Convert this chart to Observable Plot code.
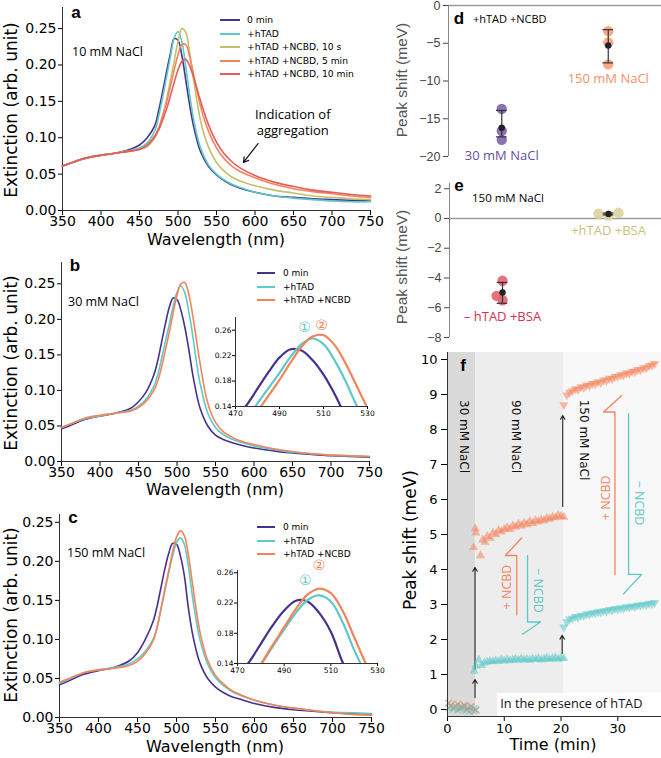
<!DOCTYPE html>
<html><head><meta charset="utf-8">
<script src="https://cdn.jsdelivr.net/npm/d3@7"></script>
<script src="https://cdn.jsdelivr.net/npm/@observablehq/plot@0.6"></script>
<style>
body{margin:0;background:#fff;}
#fig{position:relative;width:661px;height:758px;overflow:hidden;background:#fff;}
</style></head><body><div id="fig"></div>
<script>
// ---------- data: spectra ----------
const WL = [350,360,380,400,420,440,450,460,470,475,480,485,490,495,500,505,510,515,520,525,530,540,550,560,570,580,600,625,650,675,700,725,750];

const A_NAMES = ["0 min","+hTAD","+hTAD +NCBD, 10 s","+hTAD +NCBD, 5 min","+hTAD +NCBD, 10 min"];
const A_COLORS = ["#46318e","#5ec9c9","#c3bf6c","#f5835a","#e35d5d"];
const A_0MIN  = [0.061,0.065,0.072,0.076,0.079,0.085,0.090,0.100,0.117,0.138,0.163,0.190,0.215,0.236,0.234,0.213,0.180,0.146,0.117,0.095,0.079,0.060,0.049,0.041,0.035,0.031,0.025,0.020,0.018,0.016,0.015,0.014,0.013];
const A_HTAD  = [0.061,0.065,0.072,0.076,0.079,0.083,0.086,0.093,0.110,0.130,0.155,0.183,0.210,0.237,0.246,0.232,0.198,0.160,0.127,0.102,0.084,0.062,0.050,0.042,0.036,0.032,0.025,0.020,0.017,0.015,0.013,0.012,0.012];
const A_10S   = [0.061,0.065,0.072,0.076,0.079,0.082,0.084,0.088,0.100,0.112,0.130,0.152,0.178,0.205,0.232,0.250,0.245,0.218,0.182,0.148,0.120,0.086,0.066,0.054,0.046,0.041,0.034,0.028,0.024,0.020,0.018,0.016,0.015];
const A_5MIN  = [0.061,0.065,0.072,0.076,0.079,0.082,0.084,0.090,0.103,0.114,0.130,0.148,0.170,0.193,0.214,0.228,0.228,0.212,0.188,0.163,0.140,0.108,0.086,0.071,0.061,0.054,0.045,0.036,0.030,0.026,0.023,0.020,0.018];
const A_10MIN = [0.061,0.065,0.072,0.076,0.079,0.082,0.084,0.090,0.102,0.111,0.124,0.139,0.157,0.176,0.193,0.205,0.208,0.199,0.184,0.166,0.148,0.117,0.094,0.078,0.067,0.059,0.048,0.039,0.033,0.028,0.025,0.022,0.020];

const BC_NAMES = ["0 min","+hTAD","+hTAD +NCBD"];
const BC_COLORS = ["#46318e","#5ec9c9","#f5835a"];
const B_0MIN = [0.046,0.050,0.059,0.064,0.068,0.075,0.084,0.098,0.122,0.142,0.168,0.194,0.217,0.230,0.228,0.213,0.190,0.160,0.125,0.097,0.075,0.050,0.037,0.031,0.027,0.024,0.019,0.015,0.012,0.010,0.008,0.007,0.006];
const B_HTAD = [0.048,0.052,0.060,0.064,0.068,0.072,0.078,0.088,0.106,0.122,0.145,0.169,0.193,0.218,0.238,0.247,0.238,0.213,0.180,0.142,0.110,0.068,0.048,0.038,0.032,0.028,0.022,0.017,0.013,0.011,0.009,0.008,0.007];
const B_NCBD = [0.048,0.052,0.061,0.065,0.068,0.071,0.076,0.085,0.100,0.113,0.133,0.157,0.182,0.209,0.234,0.250,0.252,0.237,0.208,0.173,0.138,0.082,0.055,0.042,0.035,0.030,0.024,0.018,0.014,0.011,0.009,0.008,0.007];
const C_0MIN = [0.042,0.046,0.055,0.060,0.064,0.073,0.083,0.100,0.123,0.142,0.166,0.190,0.210,0.223,0.222,0.207,0.182,0.142,0.110,0.087,0.070,0.050,0.039,0.032,0.027,0.024,0.018,0.013,0.010,0.008,0.006,0.005,0.004];
const C_HTAD = [0.044,0.048,0.057,0.061,0.064,0.069,0.075,0.085,0.100,0.115,0.138,0.162,0.185,0.207,0.224,0.230,0.222,0.195,0.158,0.126,0.100,0.068,0.051,0.041,0.034,0.029,0.022,0.016,0.012,0.009,0.007,0.006,0.005];
const C_NCBD = [0.045,0.049,0.057,0.061,0.063,0.067,0.072,0.082,0.098,0.115,0.139,0.164,0.188,0.212,0.231,0.239,0.233,0.210,0.175,0.140,0.110,0.073,0.054,0.043,0.035,0.030,0.022,0.016,0.012,0.009,0.006,0.004,0.003];

const X_SPEC_TICKS = [350,400,450,500,550,600,650,700,750];
const Y_SPEC_TICKS = [0,0.05,0.10,0.15,0.20,0.25];
const INSET_X_TICKS = [470,490,510,530];
const INSET_Y_TICKS = [0.14,0.18,0.22,0.26];
const CIRCLES = ["①","②"];
const CIRCLE_COLORS = ["#5ec9c9","#f5835a"];
const B_CIRCLE_X = [501.4,509.1], B_CIRCLE_Y = [0.264,0.267];
const C_CIRCLE_X = [499.1,504.9], C_CIRCLE_Y = [0.250,0.269];

// ---------- data: d, e ----------
const D_CATS = ["30 mM NaCl","150 mM NaCl"];
const D_POS = [0.25,0.75];
const D_VALUES = [[-13.7,-16.6,-17.8],[-3.4,-4.9,-7.8]];
const D_MEAN = [-16.2,-5.3], D_LO = [-17.4,-7.6], D_HI = [-13.9,-3.2];
const D_DOT_COLORS = ["#8063ac","#f7a27d"], D_TEXT_COLORS = ["#6a4d9e","#f4906a"];
const D_LABEL_Y = [-19.9,-9.7];

const E_CATS = ["– hTAD +BSA","+hTAD +BSA"];
const E_POS = [0.25,0.75];
const E_VALUES = [[-4.19,-5.2,-5.5],[0.32,0.2,0.38]];
const E_JITTER = [[0,-0.028,0],[-0.047,0,0.047]];
const E_MEAN = [-4.98,0.3], E_LO = [-5.7,0.24], E_HI = [-4.3,0.36];
const E_DOT_COLORS = ["#e2636f","#d8d49d"], E_TEXT_COLORS = ["#d2334e","#c9c27e"];
const E_LABEL_Y = [-6.6,-0.8];

// ---------- data: f ----------
const F_ORANGE = "#f4845c", F_CYAN = "#5cc8c8";
const F_T1 = [0.2,0.6,1.0,1.4,1.8,2.2,2.6,3.0,3.4,3.8,4.2,4.6,5.0];
const F_O1 = [0.18,0.12,0.05,0.10,0.15,0.02,0.08,0.12,-0.02,0.05,0.10,-0.05,0.00];
const F_C1 = [0.05,0.10,0.00,0.08,-0.02,0.06,0.03,0.10,0.00,-0.05,0.05,0.02,-0.03];
const F_T2O = [4.6,4.9,5.0,5.8,6.2,6.6,7.0,7.5,8.0,8.5,9.0,9.5,10.0,10.5,11.0,11.5,12.0,12.5,13.0,13.5,14.0,14.5,15.0,15.5,16.0,16.5,17.0,17.5,18.0,18.5,19.0,19.5,20.0,20.5];
const F_O2 = [4.63,5.17,5.05,4.40,4.85,4.78,4.95,4.90,5.05,5.00,5.12,5.08,5.15,5.20,5.15,5.25,5.22,5.30,5.25,5.33,5.28,5.38,5.32,5.40,5.36,5.42,5.40,5.47,5.44,5.50,5.48,5.55,5.52,5.50];
const F_T2C = [4.7,5.0,5.5,6.0,6.5,7.0,7.5,8.0,8.5,9.0,9.5,10.0,10.5,11.0,11.5,12.0,12.5,13.0,13.5,14.0,14.5,15.0,15.5,16.0,16.5,17.0,17.5,18.0,18.5,19.0,19.5,20.0,20.5];
const F_C2 = [1.10,1.25,1.42,1.26,1.33,1.36,1.38,1.37,1.40,1.38,1.42,1.39,1.43,1.40,1.42,1.44,1.41,1.45,1.42,1.44,1.41,1.45,1.43,1.46,1.42,1.45,1.47,1.43,1.46,1.48,1.44,1.48,1.46];
const F_T3 = [20.5,21.0,21.5,22.0,22.5,23.0,23.5,24.0,24.5,25.0,25.5,26.0,26.5,27.0,27.5,28.0,28.5,29.0,29.5,30.0,30.5,31.0,31.5,32.0,32.5,33.0,33.5,34.0,34.5,35.0,35.5,36.0,36.5];
const F_O3 = [8.70,8.98,9.06,9.10,9.16,9.14,9.22,9.20,9.27,9.25,9.31,9.30,9.36,9.34,9.41,9.40,9.46,9.45,9.51,9.52,9.56,9.55,9.61,9.60,9.66,9.65,9.71,9.70,9.76,9.75,9.82,9.84,9.88];
const F_C3 = [2.35,2.50,2.58,2.60,2.65,2.63,2.69,2.68,2.73,2.72,2.76,2.75,2.79,2.78,2.82,2.81,2.85,2.84,2.88,2.87,2.90,2.89,2.93,2.92,2.95,2.94,2.98,2.97,3.00,2.99,3.03,3.02,3.05];
const F_XDOMAIN = [0,37.7], F_YDOMAIN = [-0.2,10.2];
const F_REGION_START = [0,5,20.5], F_REGION_END = [5,20.5,37.7];
const F_REGION_FILL = ["#dadada","#ededed","#f8f8f8"];
const F_SALT = ["30 mM NaCl","90 mM NaCl","150 mM NaCl"], F_SALT_X = [2.8,12.0,24.0], F_SALT_Y = [7.8,7.8,7.7];
const F_ARROWS = [[4.85,0.34,4.85,0.86],[4.85,1.15,4.85,4.06],[20.2,1.6,20.2,2.12],[20.3,5.8,20.3,8.4]];
const F_BRACKETS = [
  {c:F_ORANGE, pts:[[13.05,4.9],[10.2,4.4],[12.2,4.4],[12.2,2.7]]},
  {c:F_CYAN, pts:[[14.1,4.4],[14.1,2.5],[16.4,2.5],[13.2,2.15]]},
  {c:F_ORANGE, pts:[[30.7,8.97],[27.5,8.5],[29.5,8.5],[29.5,3.86]]},
  {c:F_CYAN, pts:[[31.9,8.45],[31.9,3.86],[34.2,3.86],[31.0,3.3]]}
];
const F_NCBD_TEXT = ["+ NCBD","− NCBD","+ NCBD","− NCBD"];
const F_NCBD_X = [10.4,16.0,27.9,33.7], F_NCBD_Y = [3.5,3.4,6.05,5.9], F_NCBD_ROT = [-90,90,-90,90];
const F_NCBD_COL = [F_ORANGE,F_CYAN,F_ORANGE,F_CYAN];
const F_BOX = {x1:8.8,x2:37.7,y1:-0.2,y2:0.46};
const F_NOTE = "In the presence of hTAD", F_NOTE_X = 9.3, F_NOTE_Y = 0.17;

// ---------- helpers ----------
const fig = document.getElementById("fig");
function put(node, left, top){ node.style.position="absolute"; node.style.left=left+"px"; node.style.top=top+"px"; fig.appendChild(node); }
function label(text, x, y, o={}){
  const d=document.createElement("div");
  d.textContent=text;
  const tx = o.anchor==="start" ? "0" : "-50%";
  d.style.cssText=`position:absolute;left:${x}px;top:${y}px;white-space:nowrap;line-height:1;font-family:${o.family||'"DejaVu Sans"'};font-size:${o.size||12}px;color:${o.color||'#000'};font-weight:${o.weight||'normal'};transform:translate(${tx},-50%) rotate(${o.rot||0}deg);`;
  fig.appendChild(d);
}
function legend(names, colors, x0, y0, dy, len, gap, size){
  names.forEach((n,i)=>{
    const sw=document.createElement("div");
    sw.style.cssText=`position:absolute;left:${x0}px;top:${y0+i*dy-1}px;width:${len}px;height:0;border-top:2px solid ${colors[i]};`;
    fig.appendChild(sw);
    label(n, x0+len+gap, y0+i*dy, {size, anchor:"start"});
  });
}
function specData(names, series){ return series.flatMap((vals,k)=>WL.map((w,i)=>({w, v:vals[i], s:names[k]}))); }

function spectrum(o){
  const data = specData(o.names, o.series);
  return Plot.plot({
    width:440, height:o.height, marginLeft:o.ml, marginRight:o.mr, marginTop:o.mt, marginBottom:o.mb,
    style:{background:"transparent", fontFamily:"DejaVu Sans", fontSize:"14px", color:"#000", overflow:"visible"},
    x:{domain:[350,750], ticks:X_SPEC_TICKS, tickSize:5, tickPadding:1, label:null},
    y:{domain:[0,o.ymax], ticks:Y_SPEC_TICKS, tickFormat:d3.format(".2f"), tickSize:4, tickPadding:2, label:null},
    color:{domain:o.names, range:o.colors},
    marks:[
      Plot.ruleX([350],{stroke:"#333"}), Plot.ruleY([0],{stroke:"#333"}),
      Plot.line(data,{x:"w", y:"v", z:"s", stroke:"s", curve:"catmull-rom", strokeWidth:1.6}),
      ...(o.extra||[])
    ]
  });
}
function inset(o){
  const data = specData(o.names, o.series);
  const circ = CIRCLES.map((t,i)=>({t, x:o.cx[i], y:o.cy[i], c:CIRCLE_COLORS[i]}));
  return Plot.plot({
    width:o.width, height:o.height, marginLeft:o.ml, marginRight:o.mr, marginTop:o.mt, marginBottom:o.mb,
    style:{background:"transparent", fontFamily:"DejaVu Sans", fontSize:"7.5px", color:"#000", overflow:"visible"},
    x:{domain:[470,530], ticks:INSET_X_TICKS, tickSize:3, tickPadding:1, label:null},
    y:{domain:[0.14,o.ymax], ticks:INSET_Y_TICKS, tickFormat:d3.format(".2f"), tickSize:3, tickPadding:1, label:null},
    color:{domain:o.names, range:o.colors},
    marks:[
      Plot.ruleX([470],{stroke:"#333"}), Plot.ruleY([0.14],{stroke:"#333"}),
      Plot.line(data,{x:"w", y:"v", z:"s", stroke:"s", curve:"catmull-rom", strokeWidth:2.2, clip:true}),
      Plot.text(circ,{x:"x", y:"y", text:"t", fill:"c", fontSize:14, fontFamily:"DejaVu Sans"})
    ]
  });
}

// ---------- panel a ----------
const A_NOTE = [{t:"Indication of\naggregation", x:649, y:0.122}];
const A_ARROW = [{x1:604, y1:0.092, x2:585, y2:0.066}];
put(spectrum({names:A_NAMES, colors:A_COLORS, series:[A_0MIN,A_HTAD,A_10S,A_5MIN,A_10MIN], height:250, ml:62, mr:70, mt:7, mb:40, ymax:0.279,
  extra:[
    Plot.text(A_NOTE,{x:"x", y:"y", text:"t", fontSize:13, fontFamily:"Open Sans", lineHeight:1.25}),
    Plot.arrow(A_ARROW,{x1:"x1", y1:"y1", x2:"x2", y2:"y2", stroke:"#111", strokeWidth:1.2, headLength:7})
  ]}), 0, 0);
label("a", 76, 12, {size:17, weight:"bold", family:'"Liberation Sans"'});
label("10 mM NaCl", 72, 52, {size:12.5, family:'"Open Sans"', anchor:"start"});
legend(A_NAMES, A_COLORS, 220, 20, 13.5, 20, 7, 9.2);
label("Extinction (arb. unit)", 11, 110, {size:17, rot:-90});
label("Wavelength (nm)", 216, 240, {size:16});

// ---------- panel b ----------
put(spectrum({names:BC_NAMES, colors:BC_COLORS, series:[B_0MIN,B_HTAD,B_NCBD], height:260, ml:61, mr:71, mt:12, mb:49, ymax:0.28}), 0, 250);
put(inset({names:BC_NAMES, colors:BC_COLORS, series:[B_0MIN,B_HTAD,B_NCBD], width:170, height:110, ml:30, mr:8, mt:7, mb:14, ymax:0.28, cx:B_CIRCLE_X, cy:B_CIRCLE_Y}), 205, 310);
label("b", 75, 265, {size:17, weight:"bold", family:'"Liberation Sans"'});
label("30 mM NaCl", 68, 302, {size:12.5, family:'"Open Sans"', anchor:"start"});
legend(BC_NAMES, BC_COLORS, 257, 273, 13.5, 18, 8, 9);
label("Extinction (arb. unit)", 11, 363, {size:17, rot:-90});
label("Wavelength (nm)", 215, 490, {size:16});

// ---------- panel c ----------
put(spectrum({names:BC_NAMES, colors:BC_COLORS, series:[C_0MIN,C_HTAD,C_NCBD], height:253, ml:59, mr:69, mt:9, mb:41, ymax:0.26}), 0, 505);
put(inset({names:BC_NAMES, colors:BC_COLORS, series:[C_0MIN,C_HTAD,C_NCBD], width:180, height:110, ml:32, mr:8, mt:7, mb:10, ymax:0.263, cx:C_CIRCLE_X, cy:C_CIRCLE_Y}), 205, 563);
label("c", 73, 517, {size:17, weight:"bold", family:'"Liberation Sans"'});
label("150 mM NaCl", 67, 553, {size:12.5, family:'"Open Sans"', anchor:"start"});
legend(BC_NAMES, BC_COLORS, 257, 527, 13.5, 18, 8, 9);
label("Extinction (arb. unit)", 11, 615, {size:17, rot:-90});
label("Wavelength (nm)", 215, 747, {size:16});

// ---------- panels d, e ----------
function scatterPanel(o){
  const pts = o.cats.flatMap((c,k)=>o.values[k].map((v,j)=>({x:o.pos[k]+(o.jitter?o.jitter[k][j]:0), v, c:o.dotColors[k]})));
  const sum = o.cats.map((c,k)=>({cat:c, x:o.pos[k], mean:o.mean[k], lo:o.lo[k], hi:o.hi[k], ly:o.labelY[k], tc:o.textColors[k]}));
  return Plot.plot({
    width:241, height:170, marginLeft:o.ml, marginRight:0, marginTop:o.mt, marginBottom:o.mb,
    style:{background:"transparent", fontFamily:"Liberation Sans", fontSize:"12.5px", color:"#444", overflow:"visible"},
    x:{domain:[0,1], axis:null},
    y:{domain:o.ydomain, ticks:o.yticks, tickSize:5, tickPadding:3, label:null},
    marks:[
      Plot.ruleY([0],{stroke:"#9a9a9a", strokeWidth:1.5}),
      Plot.ruleX([0],{stroke:"#888"}),
      Plot.dot(pts,{x:"x", y:"v", r:5.2, fill:"c", fillOpacity:0.9}),
      Plot.ruleX(sum,{x:"x", y1:"lo", y2:"hi", stroke:"#333", strokeWidth:1.2}),
      Plot.ruleY(sum,{y:"lo", x1:d=>d.x-0.025, x2:d=>d.x+0.025, stroke:"#333", strokeWidth:1.2}),
      Plot.ruleY(sum,{y:"hi", x1:d=>d.x-0.025, x2:d=>d.x+0.025, stroke:"#333", strokeWidth:1.2}),
      Plot.dot(sum,{x:"x", y:"mean", r:3.2, fill:"#222"}),
      Plot.text(sum,{x:"x", y:"ly", text:"cat", fill:"tc", fontSize:13, fontFamily:"Open Sans"})
    ]
  });
}
put(scatterPanel({cats:D_CATS, pos:D_POS, values:D_VALUES, mean:D_MEAN, lo:D_LO, hi:D_HI, dotColors:D_DOT_COLORS, textColors:D_TEXT_COLORS, labelY:D_LABEL_Y,
  ml:28, mt:5, mb:14, ydomain:[-20,0], yticks:[0,-5,-10,-15,-20]}), 420, 0);
label("d", 459, 18, {size:17, weight:"bold", family:'"Liberation Sans"'});
label("+hTAD +NCBD", 473, 18, {size:11, family:'"Open Sans"', anchor:"start"});
label("Peak shift (meV)", 402, 80, {size:15.5, rot:-90, family:'"Liberation Sans"', color:"#555"});

put(scatterPanel({cats:E_CATS, pos:E_POS, values:E_VALUES, jitter:E_JITTER, mean:E_MEAN, lo:E_LO, hi:E_HI, dotColors:E_DOT_COLORS, textColors:E_TEXT_COLORS, labelY:E_LABEL_Y,
  ml:29, mt:8, mb:8, ydomain:[-8,2.35], yticks:[2,0,-2,-4,-6,-8]}), 420, 175);
label("e", 459, 185, {size:17, weight:"bold", family:'"Liberation Sans"'});
label("150 mM NaCl", 472, 198, {size:11.5, family:'"Open Sans"', anchor:"start"});
label("Peak shift (meV)", 402, 267, {size:15.5, rot:-90, family:'"Liberation Sans"', color:"#555"});

// ---------- panel f ----------
const regions = F_REGION_START.map((a,i)=>({a, b:F_REGION_END[i], f:F_REGION_FILL[i]}));
const seg1 = F_T1.flatMap((t,i)=>[{t, v:F_O1[i], c:F_ORANGE},{t, v:F_C1[i], c:F_CYAN}]);
const seg2 = [...F_T2O.map((t,i)=>({t, v:F_O2[i], c:F_ORANGE})), ...F_T2C.map((t,i)=>({t, v:F_C2[i], c:F_CYAN}))];
const seg3 = [...F_T3.map((t,i)=>({t, v:F_O3[i], c:F_ORANGE})), ...F_T3.map((t,i)=>({t, v:F_C3[i], c:F_CYAN}))];
const brackets = F_BRACKETS.flatMap((b,k)=>b.pts.map(p=>({x:p[0], y:p[1], id:k, c:b.c})));
const arrows = F_ARROWS.map(a=>({x1:a[0], y1:a[1], x2:a[2], y2:a[3]}));
const salts = F_SALT.map((s,i)=>({s, x:F_SALT_X[i], y:F_SALT_Y[i]}));
const ncbd = F_NCBD_TEXT.map((s,i)=>({s, x:F_NCBD_X[i], y:F_NCBD_Y[i], r:F_NCBD_ROT[i], c:F_NCBD_COL[i]}));

put(Plot.plot({
  width:241, height:413, marginLeft:27, marginRight:0, marginTop:7, marginBottom:42,
  style:{background:"transparent", fontFamily:"DejaVu Sans", fontSize:"13px", color:"#000", overflow:"visible"},
  x:{domain:F_XDOMAIN, ticks:[0,10,20,30], tickSize:5, tickPadding:2, label:null},
  y:{domain:F_YDOMAIN, ticks:[0,1,2,3,4,5,6,7,8,9,10], tickSize:6, tickPadding:4, label:null},
  marks:[
    Plot.rect(regions,{x1:"a", x2:"b", y1:F_YDOMAIN[0], y2:F_YDOMAIN[1], fill:"f"}),
    Plot.rect([F_BOX],{x1:"x1", x2:"x2", y1:"y1", y2:"y2", fill:"#fff"}),
    Plot.line(brackets,{x:"x", y:"y", z:"id", stroke:"c", strokeWidth:1.3}),
    Plot.arrow(arrows,{x1:"x1", y1:"y1", x2:"x2", y2:"y2", stroke:"#222", strokeWidth:1.1, headLength:6}),
    Plot.dot(seg1,{x:"t", y:"v", symbol:"times", stroke:"c", r:3.2, strokeOpacity:0.7, strokeWidth:1.2}),
    Plot.dot(seg2,{x:"t", y:"v", symbol:"triangle", fill:"c", fillOpacity:0.55, r:3.4}),
    Plot.dot(seg3,{x:"t", y:"v", symbol:"triangle", rotate:180, fill:"c", fillOpacity:0.55, r:3.4}),
    Plot.text(salts,{x:"x", y:"y", text:"s", rotate:90, fontSize:12, fontFamily:"DejaVu Sans", fill:"#111"}),
    Plot.text(ncbd,{x:"x", y:"y", text:"s", rotate:"r", fill:"c", fontSize:12.5, fontFamily:"Open Sans"}),
    Plot.text([F_NOTE],{x:F_NOTE_X, y:F_NOTE_Y, text:d=>d, textAnchor:"start", fontSize:12.7, fontFamily:"Open Sans", fill:"#111"}),
    Plot.ruleX([0],{stroke:"#333"}), Plot.ruleY([F_YDOMAIN[0]],{stroke:"#333"})
  ]
}), 420, 345);
label("f", 463, 365, {size:17, weight:"bold", family:'"Liberation Sans"'});
label("Peak shift (meV)", 410, 540, {size:17, rot:-90});
label("Time (min)", 553, 745, {size:16});
</script></body></html>
